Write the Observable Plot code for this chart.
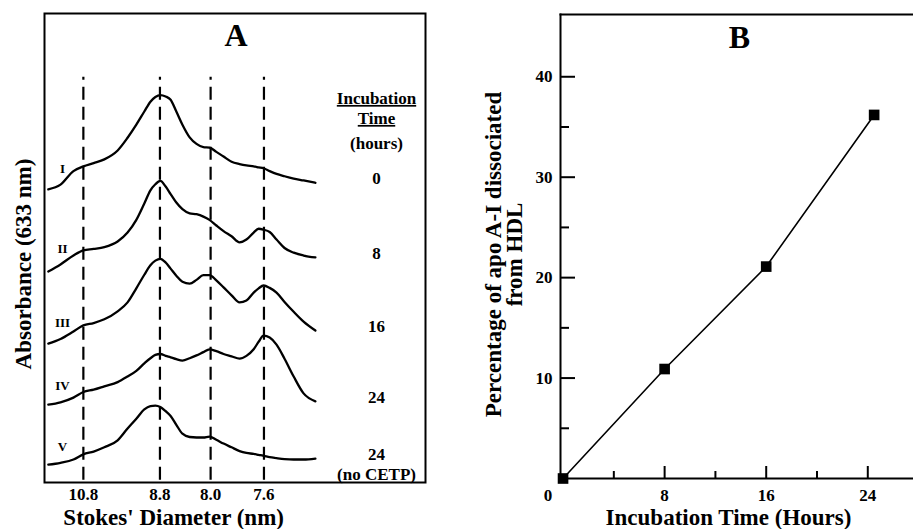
<!DOCTYPE html>
<html>
<head>
<meta charset="utf-8">
<script src="https://cdn.jsdelivr.net/npm/d3@7"></script>
<script src="https://cdn.jsdelivr.net/npm/@observablehq/plot@0.6"></script>
<style>
  html, body { margin: 0; padding: 0; background: #fff; }
  #figure { display: flex; width: 913px; height: 529px; overflow: hidden; }
</style>
</head>
<body>
<div id="figure"></div>
<script>
// ---------- Panel A: gradient-gel absorbance scans ----------
// migration distance along the gel (arbitrary units, 0-100 across the scan window)
const migration = [1.0, 4.2, 7.6, 10.2, 12.9, 15.7, 19.2, 21.8, 24.1, 26.2, 27.8, 29.1, 30.4, 31.8,
  33.1, 34.6, 36.2, 38.1, 39.9, 41.7, 43.3, 45.1, 47.0, 49.1, 51.2, 53.0, 54.9, 56.2, 57.5, 59.1,
  60.9, 63.0, 65.4, 68.0, 71.1];

// offset absorbance traces (arbitrary units), one per lane
const traceI = [62.5, 63.5, 66.4, 67.4, 68.1, 68.9, 70.8, 73.5, 76.3, 79.1, 81.2, 82.2, 82.6, 82.3,
  81.6, 79.1, 76.3, 73.6, 72.2, 71.5, 71.4, 70.5, 69.5, 68.4, 67.9, 67.6, 67.4, 67.2, 67.0, 66.4,
  65.8, 65.3, 64.8, 64.4, 63.9];
const traceII = [45.0, 46.5, 48.4, 49.5, 49.8, 50.2, 51.4, 53.3, 56.0, 59.5, 62.3, 63.6, 64.3, 63.1,
  61.5, 59.7, 58.3, 57.4, 57.2, 56.7, 56.0, 54.8, 53.6, 52.5, 51.2, 51.8, 53.3, 54.1, 53.9, 53.4,
  51.8, 50.0, 49.0, 48.4, 48.0];
const traceIII = [29.6, 30.6, 32.2, 33.5, 34.0, 34.8, 36.5, 38.4, 41.4, 44.3, 46.3, 47.3, 47.7, 46.9,
  45.6, 44.1, 42.8, 42.4, 43.2, 44.2, 44.2, 43.1, 41.6, 39.9, 38.4, 38.8, 40.5, 41.4, 42.0, 41.5,
  40.5, 38.5, 36.4, 34.3, 32.4];
const traceIV = [16.6, 17.1, 18.1, 19.3, 19.8, 20.5, 21.4, 22.6, 23.8, 25.4, 26.5, 27.2, 27.4, 27.0,
  26.7, 26.3, 26.0, 26.5, 27.1, 27.8, 28.4, 28.0, 27.4, 26.9, 26.4, 27.0, 28.4, 30.0, 31.3, 30.9,
  29.4, 26.4, 22.6, 19.0, 17.3];
const traceV = [3.8, 4.2, 4.9, 6.0, 6.6, 7.5, 9.0, 11.5, 13.6, 15.6, 16.3, 16.4, 16.1, 15.2,
  14.2, 12.3, 10.4, 9.7, 9.6, 9.6, 9.8, 9.1, 8.3, 7.5, 6.7, 6.3, 6.1, 5.9, 5.7, 5.4,
  5.2, 5.0, 4.9, 4.9, 5.1];

const laneNames = ["I", "II", "III", "IV", "V"];
const laneHours = ["0", "8", "16", "24", "24"];
const traces = [traceI, traceII, traceIII, traceIV, traceV];

// Stokes' diameter markers (nm) and their migration positions
const stokesLabels = ["10.8", "8.8", "8.0", "7.6"];
const stokesPositions = [10.2, 30.3, 43.6, 57.6];

// ---------- Panel B: apo A-I dissociation over time ----------
const incubationHours = [0, 8, 16, 24.5];
const dissociatedPct = [0, 10.9, 21.1, 36.2];
const yMajorTicks = [10, 20, 30, 40];
const yMinorTicks = [5, 15, 25, 35];
const xMajorTicks = [8, 16, 24];
const xMinorTicks = [4, 12, 20];

const serif = "'Liberation Serif', 'Times New Roman', Times, serif";
const baseStyle = {fontFamily: serif, fontWeight: "bold", fontSize: "17px", background: "#fff", color: "#000", overflow: "visible"};

const rows = traces.flatMap((vals, i) => vals.map((v, j) => ({lane: laneNames[i], pos: migration[j], abs: v})));
const stokesLabelAt = new Map(stokesPositions.map((p, i) => [p, stokesLabels[i]]));
const lastOf = (a) => a[a.length - 1];

const chartA = Plot.plot({
  width: 460,
  height: 529,
  marginLeft: 44,
  marginRight: 35,
  marginTop: 13,
  marginBottom: 47,
  x: {domain: [0, 100], label: null},
  y: {domain: [0, 100], axis: null, label: null},
  style: baseStyle,
  marks: [
    Plot.frame({strokeWidth: 2}),
    Plot.ruleX(stokesPositions, {y1: 0.5, y2: 86.4, strokeWidth: 2.2, strokeDasharray: "13,7"}),
    Plot.line(rows, {x: "pos", y: "abs", z: "lane", curve: "monotone-x", strokeWidth: 2.3}),
    Plot.text(laneNames, {x: () => migration[1], y: (d, i) => traces[i][1], dx: 2, dy: -16,
      fontSize: 13, lineAnchor: "middle"}),
    Plot.text(laneHours, {frameAnchor: "right", y: (d, i) => lastOf(traces[i]), dx: -49, dy: -4,
      textAnchor: "middle", lineAnchor: "middle", fontSize: 17}),
    Plot.text(["(no CETP)"], {frameAnchor: "right", y: [lastOf(traceV)], dx: -49, dy: 16,
      textAnchor: "middle", lineAnchor: "middle", fontSize: 17}),
    Plot.text(["Incubation"], {frameAnchor: "top-right", dx: -49, dy: 85, textAnchor: "middle", lineAnchor: "middle", fontSize: 17}),
    Plot.text(["Time"], {frameAnchor: "top-right", dx: -49, dy: 105, textAnchor: "middle", lineAnchor: "middle", fontSize: 17}),
    Plot.text(["(hours)"], {frameAnchor: "top-right", dx: -49, dy: 130, textAnchor: "middle", lineAnchor: "middle", fontSize: 17}),
    Plot.text(["A"], {frameAnchor: "top", dx: 1, dy: 22, textAnchor: "middle", lineAnchor: "middle", fontSize: 32}),
    Plot.axisX({ticks: stokesPositions, tickSize: 0, tickPadding: 5, tickFormat: (d) => stokesLabelAt.get(d),
      fontSize: 17, label: null}),
    Plot.text(["Stokes' Diameter (nm)"], {x: [(stokesPositions[0] + lastOf(stokesPositions)) / 2],
      frameAnchor: "bottom", dy: 35, textAnchor: "middle", lineAnchor: "middle", fontSize: 23}),
    Plot.text(["Absorbance (633 nm)"], {frameAnchor: "left", rotate: -90, dx: -21, dy: 16,
      textAnchor: "middle", lineAnchor: "middle", fontSize: 23})
  ]
});

d3.select(chartA).selectAll("text")
  .filter(function () { return this.textContent === "Incubation" || this.textContent === "Time"; })
  .style("text-decoration", "underline");

const points = incubationHours.map((h, i) => ({hours: h, pct: dissociatedPct[i]}));
const plotW = 453 - 100, plotH = 529 - 14 - 51;

const chartB = Plot.plot({
  width: 453,
  height: 529,
  marginLeft: 100,
  marginRight: 0,
  marginTop: 14,
  marginBottom: 51,
  x: {domain: [-0.2, 27.6], label: null},
  y: {domain: [0, 46.2], label: null},
  style: baseStyle,
  marks: [
    Plot.frame({anchor: "left", strokeWidth: 2}),
    Plot.frame({anchor: "top", strokeWidth: 2}),
    Plot.frame({anchor: "bottom", strokeWidth: 2}),
    Plot.tickY(yMajorTicks, {y: (d) => d, insetRight: plotW - 15, strokeWidth: 2}),
    Plot.tickY(yMinorTicks, {y: (d) => d, insetRight: plotW - 9, strokeWidth: 2}),
    Plot.tickX(xMajorTicks, {x: (d) => d, insetTop: plotH - 12, strokeWidth: 2}),
    Plot.tickX(xMinorTicks, {x: (d) => d, insetTop: plotH - 7, strokeWidth: 2}),
    Plot.axisY({ticks: yMajorTicks, tickSize: 0, tickPadding: 8, fontSize: 17, label: null}),
    Plot.axisX({ticks: xMajorTicks, tickSize: 0, tickPadding: 10, fontSize: 17, label: null}),
    Plot.axisX({ticks: [0], tickSize: 0, tickPadding: 10, dx: -15, fontSize: 17, label: null}),
    Plot.line(points, {x: "hours", y: "pct", strokeWidth: 1.6}),
    Plot.dot(points, {x: "hours", y: "pct", symbol: "square", r: 6, fill: "#000", stroke: "none"}),
    Plot.text(["B"], {frameAnchor: "top", dx: 2.5, dy: 23, textAnchor: "middle", lineAnchor: "middle", fontSize: 32}),
    Plot.text(["Incubation Time (Hours)"], {frameAnchor: "bottom", dx: -8.5, dy: 39,
      textAnchor: "middle", lineAnchor: "middle", fontSize: 23}),
    Plot.text(["Percentage of apo A-I dissociated\nfrom HDL"], {frameAnchor: "left", rotate: -90, dx: -56, dy: 8,
      textAnchor: "middle", lineAnchor: "middle", lineHeight: 0.92, fontSize: 23})
  ]
});

const fig = document.getElementById("figure");
fig.appendChild(chartA);
fig.appendChild(chartB);
</script>
</body>
</html>
